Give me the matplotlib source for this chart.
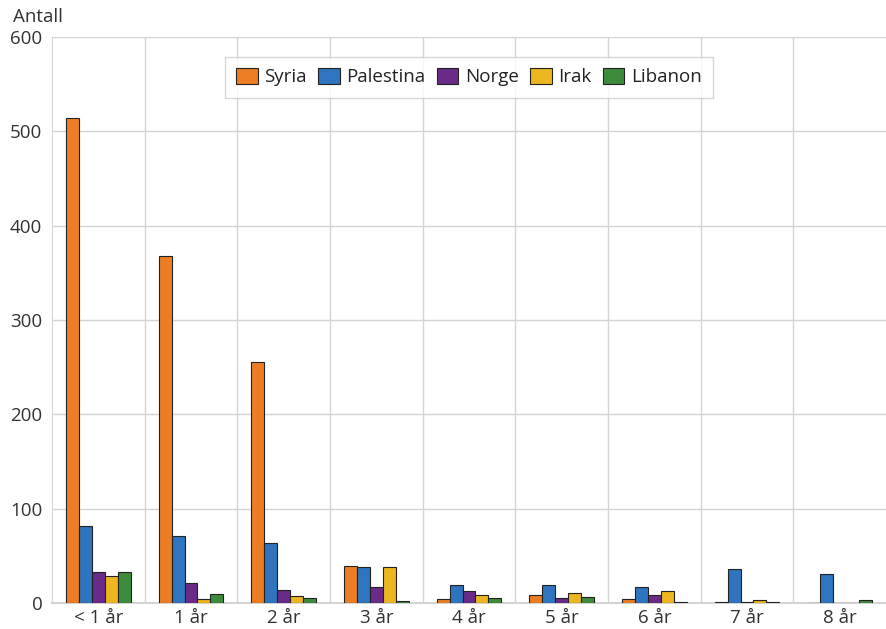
import matplotlib
matplotlib.use("Agg")
import matplotlib.pyplot as plt
import numpy as np
from matplotlib.ticker import FixedLocator

plt.rcParams['font.family'] = ['Open Sans', 'DejaVu Sans']

categories = ["< 1 år", "1 år", "2 år", "3 år", "4 år", "5 år", "6 år", "7 år", "8 år"]
syria     = [514, 368, 255, 39, 4, 9, 4, 1, 0]
palestina = [82, 71, 64, 38, 19, 19, 17, 36, 31]
norge     = [33, 21, 14, 17, 13, 5, 8, 1, 0]
irak      = [29, 4, 7, 38, 9, 11, 13, 3, 0]
libanon   = [33, 10, 5, 2, 5, 6, 1, 1, 3]
series_names = ["Syria", "Palestina", "Norge", "Irak", "Libanon"]
colors = ["#ED7D25", "#2E74BE", "#6A2A88", "#ECB620", "#3F8B3D"]

FS = 13.5

fig = plt.figure(figsize=(8.87, 6.29), dpi=100)
ax = fig.add_axes([52/887, 26/629, 834/887, 566/629])

x = np.arange(len(categories))
n = len(series_names)
group_w = 0.70
bw = group_w / n
for i, (name, vals, c) in enumerate(zip(series_names, [syria, palestina, norge, irak, libanon], colors)):
    offs = -group_w/2 + bw*(i+0.5)
    ax.bar(x + offs, vals, width=bw, color=c, edgecolor="#222222", linewidth=0.8, label=name, zorder=3)

ax.set_xlim(-0.5, len(categories) - 0.5)
ax.set_ylim(0, 600)
ax.set_yticks(np.arange(0, 601, 100))
ax.set_xticks(x)
ax.set_xticklabels(categories)
ax.xaxis.set_minor_locator(FixedLocator(np.arange(0.5, len(categories)-0.5, 1)))
ax.grid(axis='y', which='major', color='#d4d4d4', linewidth=1, zorder=0)
ax.grid(axis='x', which='minor', color='#d4d4d4', linewidth=1, zorder=0)
ax.tick_params(axis='both', which='both', length=0, labelsize=FS, labelcolor='#333333')
ax.tick_params(axis='y', pad=7)
ax.tick_params(axis='x', pad=4)
for s in ['top', 'right']:
    ax.spines[s].set_visible(False)
ax.spines['left'].set_color('#d4d4d4')
ax.spines['bottom'].set_color('#d4d4d4')
ax.spines['bottom'].set_linewidth(1.5)

fig.text(13/887, 1 - 17/629, "Antall", fontsize=FS, color='#333333', va='center', ha='left')

leg = ax.legend(loc='upper center', bbox_to_anchor=(0.5, 0.965), ncol=5, frameon=True,
                fontsize=FS, handlelength=1.15, handleheight=0.9, handletextpad=0.35,
                columnspacing=0.6, borderpad=0.6, borderaxespad=0, fancybox=False,
                edgecolor='#cccccc')
leg.get_frame().set_linewidth(1)
for t in leg.get_texts():
    t.set_color('#222222')

fig.savefig("out.png", dpi=100)
